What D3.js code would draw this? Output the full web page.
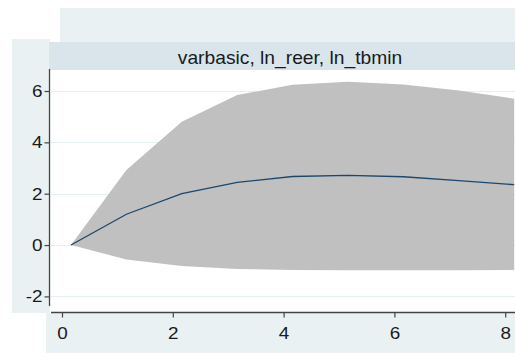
<!DOCTYPE html>
<html>
<head>
<meta charset="utf-8">
<script src="https://cdn.jsdelivr.net/npm/d3@7"></script>
<style>
  html, body { margin: 0; padding: 0; background: #ffffff; }
  svg { display: block; }
  text { font-family: "Liberation Sans", Arial, sans-serif; fill: #1a1a1a; }
</style>
</head>
<body>
<svg id="chart" width="515" height="353"></svg>
<script>
// Impulse response of ln_tbmin to ln_reer (varbasic), with confidence band
const steps = [0, 1, 2, 3, 4, 5, 6, 7, 8];
const irf   = [0, 1.20, 2.00, 2.44, 2.67, 2.71, 2.66, 2.51, 2.35];
const upper = [0, 2.92, 4.80, 5.84, 6.24, 6.36, 6.25, 6.02, 5.70];
const lower = [0, -0.56, -0.82, -0.93, -0.97, -0.98, -0.98, -0.98, -0.97];
const xTicks = [0, 2, 4, 6, 8];
const yTicks = [-2, 0, 2, 4, 6];
const panelTitle = "varbasic, ln_reer, ln_tbmin";

const svg = d3.select("#chart");
const W = 515, H = 353;

const panelFill = "#eaf1f3";
const stripFill = "#d9e5ea";

// plot region
const plot = { left: 50, right: 515, top: 70, bottom: 312 };

// background panels
svg.append("rect").attr("x", 0).attr("y", 0).attr("width", W).attr("height", H).attr("fill", "#ffffff");
svg.append("rect").attr("x", 60).attr("y", 8).attr("width", W - 60).attr("height", 36).attr("fill", panelFill);
svg.append("rect").attr("x", 12).attr("y", 39).attr("width", 38).attr("height", 274).attr("fill", panelFill);
svg.append("rect").attr("x", 46).attr("y", 313).attr("width", W - 46).attr("height", H - 313).attr("fill", panelFill);
svg.append("rect").attr("x", 49).attr("y", 42).attr("width", W - 49).attr("height", 28).attr("fill", stripFill);
svg.append("rect").attr("x", plot.left).attr("y", plot.top).attr("width", plot.right - plot.left)
  .attr("height", plot.bottom - plot.top).attr("fill", "#ffffff");

// scales
const x = d3.scaleLinear().domain([0, 8]).range([71, 514.2]);
const y = d3.scaleLinear().domain([-2, 6]).range([296.4, 91]);

// grid lines
svg.append("g").selectAll("line").data(yTicks).join("line")
  .attr("x1", plot.left + 1).attr("x2", plot.right)
  .attr("y1", d => Math.round(y(d)) + 0.5).attr("y2", d => Math.round(y(d)) + 0.5)
  .attr("stroke", "#e6eff2").attr("stroke-width", 1);

// confidence band
const pts = steps.map((s, i) => ({ s, lo: lower[i], hi: upper[i], v: irf[i] }));
svg.append("path").datum(pts)
  .attr("d", d3.area().x(d => x(d.s)).y0(d => y(d.lo)).y1(d => y(d.hi)))
  .attr("fill", "#c0c0c0");

// impulse response line
svg.append("path").datum(pts)
  .attr("d", d3.line().x(d => x(d.s)).y(d => y(d.v)))
  .attr("fill", "none").attr("stroke", "#1a476f").attr("stroke-width", 1.3);

// tick labels use a plain hyphen for negatives
const plainFormat = d => String(d);

// y axis
const yAxis = d3.axisLeft(y).tickValues(yTicks).tickFormat(plainFormat).tickSize(5).tickPadding(4);
const gy = svg.append("g").attr("transform", "translate(49.5,0)").call(yAxis);
gy.select(".domain").remove();
gy.append("line").attr("x1", 0).attr("x2", 0).attr("y1", 69).attr("y2", 306)
  .attr("stroke", "#444").attr("stroke-width", 1.3);
gy.selectAll(".tick line").attr("stroke", "#444").attr("stroke-width", 1.2);
gy.selectAll(".tick text")
  .attr("font-size", 16).attr("fill", "#1a1a1a")
  .attr("x", null).attr("dy", null)
  .attr("text-anchor", "end")
  .attr("transform", "translate(-7,5.5) scale(1.18,1)");

// x axis (tick marks sit slightly left of the step positions)
const xAxis = d3.axisBottom(x).tickValues(xTicks).tickFormat(plainFormat).tickSize(5).tickPadding(4);
const gx = svg.append("g").attr("transform", "translate(-9,312.5)").call(xAxis);
gx.select(".domain").remove();
gx.append("line").attr("x1", 60).attr("x2", W + 9).attr("y1", 0).attr("y2", 0)
  .attr("stroke", "#444").attr("stroke-width", 1.3);
gx.selectAll(".tick line").attr("stroke", "#444").attr("stroke-width", 1.2);
gx.selectAll(".tick text")
  .attr("font-size", 16).attr("fill", "#1a1a1a")
  .attr("y", null).attr("dy", null)
  .attr("transform", "translate(0,26.5) scale(1.18,1)");

// panel title
svg.append("text")
  .attr("transform", "translate(290,63.5) scale(1.1,1)")
  .attr("text-anchor", "middle").attr("font-size", 17.5)
  .text(panelTitle);
</script>
</body>
</html>
